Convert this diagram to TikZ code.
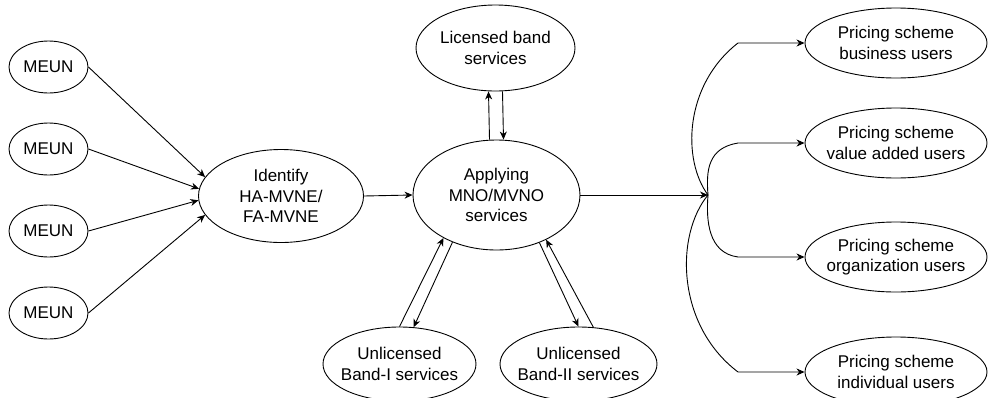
\documentclass[tikz,border=0pt]{standalone}
\usepackage{fontspec}
\setmainfont{Liberation Sans}
\usetikzlibrary{shapes.geometric,arrows.meta}
\begin{document}
\begin{tikzpicture}[x=1pt,y=-1pt,
  % the outline size is fixed by minimum width/height alone
  bubble/.style={ellipse,draw,line width=0.9pt,inner sep=-40pt,align=center,
                 font=\fontsize{17}{20.5}\selectfont},
  link/.style={line width=0.9pt,-{Stealth[length=8pt,width=7pt,inset=2.5pt]}}]
\useasboundingbox (0,0) rectangle (989,397);

% sources
\node[bubble,minimum width=79pt,minimum height=52pt] (m1) at (48.5,67)  {MEUN};
\node[bubble,minimum width=79pt,minimum height=52pt] (m2) at (48.5,149) {MEUN};
\node[bubble,minimum width=79pt,minimum height=52pt] (m3) at (48.5,231) {MEUN};
\node[bubble,minimum width=79pt,minimum height=52pt] (m4) at (48.5,313) {MEUN};

% central chain
\node[bubble,minimum width=165pt,minimum height=93pt] (id) at (281,196)
  {Identify\\HA-MVNE/\\FA-MVNE};
\node[bubble,minimum width=167pt,minimum height=110pt] (app) at (496.5,195)
  {Applying\\MNO/MVNO\\services};
\node[bubble,minimum width=159pt,minimum height=86pt] (lic) at (495.5,48)
  {Licensed band\\services};
\node[bubble,minimum width=153pt,minimum height=74pt] (b1) at (399.5,364)
  {Unlicensed\\Band-I services};
\node[bubble,minimum width=157pt,minimum height=74pt] (b2) at (578.5,364)
  {Unlicensed\\Band-II services};

% pricing schemes
\node[bubble,minimum width=182pt,minimum height=70pt] (p1) at (896,43)
  {Pricing scheme\\business users};
\node[bubble,minimum width=182pt,minimum height=70pt] (p2) at (896,143)
  {Pricing scheme\\value added users};
\node[bubble,minimum width=182pt,minimum height=70pt] (p3) at (896,257)
  {Pricing scheme\\organization users};
\node[bubble,minimum width=182pt,minimum height=70pt] (p4) at (896,372)
  {Pricing scheme\\individual users};

\coordinate (br) at (708,195);

% MEUN inputs
\draw[link] (m1.east) -- (id.166);
\draw[link] (m2.east) -- (id.175);
\draw[link] (m3.east) -- (id.183);
\draw[link] (m4.east) -- (id.194);

\draw[link] (id.east) -- (app.west);

% licensed band, two way
\draw[link] ([xshift=-7pt]app.north) -- ([xshift=-7pt]lic.south);
\draw[link] ([xshift=7pt]lic.south) -- ([xshift=7pt]app.north);

% unlicensed bands, two way
\draw[link] (b1.north) -- (app.219.5);
\draw[link] (app.227) -- (b1.69);
\draw[link] (app.312) -- (b2.north);
\draw[link] (b2.68) -- (app.318.5);

% fan-out to pricing schemes
\draw[link] (app.east) -- (br);
\draw[link] (br) .. controls (682,160) and (684,85) .. (738,43) -- (p1.west);
\draw[link] (br) .. controls (706,170) and (708,148) .. (738,143) -- (p2.west);
\draw[link] (br) .. controls (706,220) and (708,253) .. (738,257) -- (p3.west);
\draw[link] (br) .. controls (675,235) and (676,325) .. (738,372) -- (p4.west);
\end{tikzpicture}
\end{document}
